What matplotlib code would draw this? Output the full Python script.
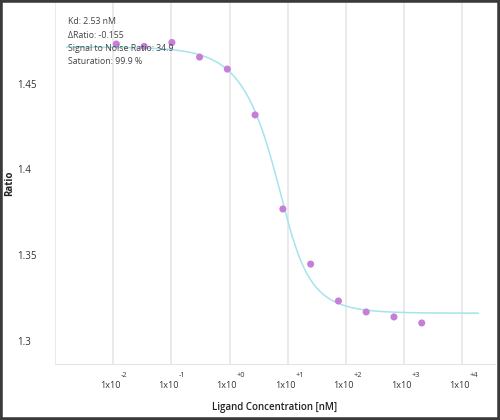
import matplotlib
matplotlib.use("Agg")
import matplotlib.pyplot as plt
from matplotlib.patches import Rectangle
import numpy as np

plt.rcParams['font.family'] = ['Open Sans', 'DejaVu Sans']

# measured points (ligand conc in nM, ratio)
conc = [0.0113, 0.0339, 0.102, 0.305, 0.914, 2.74, 8.23, 24.7, 74.1, 222, 667, 2000]
ratio = [1.4730, 1.4716, 1.4739, 1.4654, 1.4584, 1.4317, 1.3769, 1.3448,
         1.3233, 1.3169, 1.3140, 1.3105]

# fit parameters (from the annotation)
kd = 2.53
delta_ratio = -0.155
unbound = 1.4712
target_conc = 8.0

info_lines = ["Kd: 2.53 nM", "\u0394Ratio: -0.155", "Signal to Noise Ratio: 34.9",
              "Saturation: 99.9 %"]

grid_pos = [1e-3, 1e-2, 1e-1, 1e0, 1e1, 1e2, 1e3, 1e4]
label_pos = [1e-2, 1e-1, 1e0, 1e1, 1e2, 1e3, 1e4]
label_exp = ["-2", "-1", "+0", "+1", "+2", "+3", "+4"]
y_ticks = [1.3, 1.35, 1.4, 1.45]
y_labels = ["1.3", "1.35", "1.4", "1.45"]


def kd_model(c):
    # standard quadratic binding model
    s = c + target_conc + kd
    fb = (s - np.sqrt(s * s - 4 * c * target_conc)) / (2 * target_conc)
    return unbound + delta_ratio * fb


W, H = 500, 420
fig = plt.figure(figsize=(W / 100, H / 100), dpi=100)
ax = fig.add_axes([55 / W, 1 - 364 / H, 440 / W, 361 / H])

ax.set_xscale('log')
ax.set_xlim(1e-3, 10 ** 4.56)
ax.set_ylim(1.2866, 1.4969)

xc = np.logspace(-2.8, 4.27, 300)
ax.plot(xc, kd_model(xc), color='#a6e3ee', lw=1.1, zorder=3)
ax.scatter(conc, ratio, s=26, color='#c57fd9', edgecolors='none', zorder=4)

ax.set_xticks(grid_pos)
ax.set_xticklabels([])
ax.minorticks_off()
ax.set_yticks(y_ticks)
ax.set_yticklabels(y_labels, ha='left')
ax.tick_params(axis='y', length=0, pad=27.4, labelsize=7, labelcolor='#333333')
ax.tick_params(axis='x', length=0)
ax.grid(axis='x', color='#e4e4e4', lw=1.1)
ax.set_axisbelow(True)

for side in ['top', 'right', 'left']:
    ax.spines[side].set_visible(False)
ax.spines['bottom'].set_color('#e4e4e4')

# x tick labels: "1x10" with a raised exponent
for pos, ex in zip(label_pos, label_exp):
    px = ax.transData.transform((pos, 1.3))[0]
    fig.text((px + 7.5) / W, 1 - 386 / H, "1x10", fontsize=6.5, color='#333333',
             ha='right', va='center')
    fig.text((px + 7.5) / W, 1 - 375.5 / H, ex, fontsize=5.3, color='#333333',
             ha='left', va='center')

ax.set_xlabel('Ligand Concentration [nM]', fontsize=7, fontweight='semibold', color='#222222')
ax.xaxis.set_label_coords(0.5, -0.105)
ax.set_ylabel('Ratio', fontsize=7, fontweight='bold', color='#222222')
ax.yaxis.set_label_coords(-0.091, 0.5)

for i, line in enumerate(info_lines):
    fig.text(68 / W, 1 - (22 + 13.2 * i) / H, line, fontsize=6.3, color='#444444',
             va='center', ha='left', zorder=2)

fig.patches.append(Rectangle((0, 0), 1, 1, transform=fig.transFigure, fill=False,
                             edgecolor='#3a3a3a', lw=4))

fig.savefig('out.png', dpi=100)
